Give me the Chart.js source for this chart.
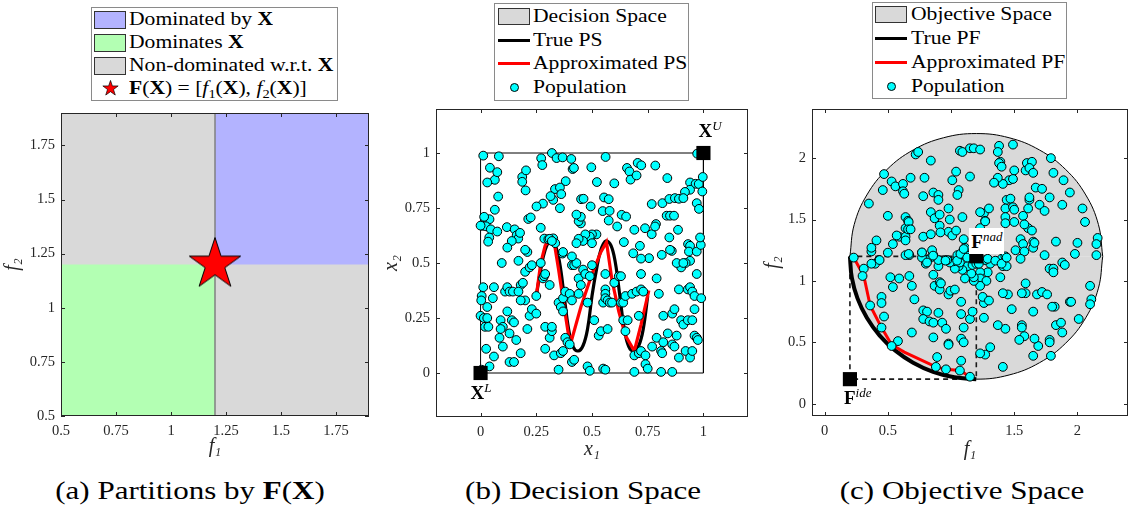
<!DOCTYPE html>
<html><head><meta charset="utf-8">
<script src="https://cdn.jsdelivr.net/npm/chart.js@4.4.1/dist/chart.umd.min.js"></script>
<style>
body{margin:0;width:1131px;height:509px;background:#fff;position:relative;overflow:hidden;font-family:'Liberation Serif','Times New Roman',serif;color:#000;}
canvas{position:absolute;}
.leg{position:absolute;border:1px solid #8a8a8a;background:#fff;font-size:18px;box-sizing:border-box;}
.row{position:absolute;left:0;right:0;height:23px;line-height:23px;white-space:nowrap;}
.sw{position:absolute;box-sizing:border-box;}
.txt{position:absolute;display:inline-block;transform:scaleX(1.2);transform-origin:0 50%;}
.cap{position:absolute;font-size:25px;top:476px;line-height:30px;transform:translateX(-50%) scaleX(1.24);white-space:nowrap;}
.ann{position:absolute;font-size:19px;line-height:19px;white-space:nowrap;}
.ann sup{font-size:13px;font-style:italic;vertical-align:7px;line-height:0;}
sub{font-size:12px;vertical-align:-4px;line-height:0;}
</style></head>
<body>
<canvas id="ca" width="380" height="370" style="left:0;top:100px"></canvas>
<canvas id="cb" width="380" height="370" style="left:380px;top:100px"></canvas>
<canvas id="cc" width="371" height="370" style="left:760px;top:100px"></canvas>

<div class="leg" style="left:91px;top:7px;width:247px;height:94px">
  <div class="row" style="top:0px"><div class="sw" style="left:2px;top:3px;width:32px;height:18px;background:#b3b3ff;border:1px solid #333"></div><div class="txt" style="left:37px">Dominated by <b>X</b></div></div>
  <div class="row" style="top:23px"><div class="sw" style="left:2px;top:3px;width:32px;height:18px;background:#b3ffb3;border:1px solid #333"></div><div class="txt" style="left:37px">Dominates <b>X</b></div></div>
  <div class="row" style="top:46px"><div class="sw" style="left:2px;top:3px;width:32px;height:18px;background:#d9d9d9;border:1px solid #333"></div><div class="txt" style="left:37px">Non-dominated w.r.t. <b>X</b></div></div>
  <div class="row" style="top:69px"><svg class="sw" style="left:10px;top:3px" width="17" height="17" viewBox="-10 -10 20 20"><polygon points="0,-9.5 2.2,-3 9,-3 3.5,1.2 5.6,7.7 0,3.7 -5.6,7.7 -3.5,1.2 -9,-3 -2.2,-3" fill="#ff0000" stroke="#000" stroke-width="0.8"/></svg><div class="txt" style="left:37px"><b>F</b>(<b>X</b>) = [<i>f</i><sub>1</sub>(<b>X</b>), <i>f</i><sub>2</sub>(<b>X</b>)]</div></div>
</div>

<div class="leg" style="left:494px;top:3px;width:195px;height:98px">
  <div class="row" style="top:1px"><div class="sw" style="left:3px;top:3px;width:32px;height:17px;background:#d9d9d9;border:1px solid #333"></div><div class="txt" style="left:38px">Decision Space</div></div>
  <div class="row" style="top:25px"><div class="sw" style="left:3px;top:10px;width:32px;height:3px;background:#000"></div><div class="txt" style="left:38px">True PS</div></div>
  <div class="row" style="top:48px"><div class="sw" style="left:3px;top:10px;width:32px;height:3px;background:#ff0000"></div><div class="txt" style="left:38px">Approximated PS</div></div>
  <div class="row" style="top:72px"><div class="sw" style="left:15px;top:7px;width:9px;height:9px;border-radius:50%;background:#00ffff;border:1px solid #000"></div><div class="txt" style="left:38px">Population</div></div>
</div>

<div class="leg" style="left:872px;top:2px;width:195px;height:97px">
  <div class="row" style="top:0px"><div class="sw" style="left:2px;top:3px;width:32px;height:17px;background:#d9d9d9;border:1px solid #333"></div><div class="txt" style="left:38px">Objective Space</div></div>
  <div class="row" style="top:24px"><div class="sw" style="left:2px;top:10px;width:32px;height:3px;background:#000"></div><div class="txt" style="left:38px">True PF</div></div>
  <div class="row" style="top:48px"><div class="sw" style="left:2px;top:10px;width:32px;height:3px;background:#ff0000"></div><div class="txt" style="left:38px">Approximated PF</div></div>
  <div class="row" style="top:72px"><div class="sw" style="left:14px;top:7px;width:9px;height:9px;border-radius:50%;background:#00ffff;border:1px solid #000"></div><div class="txt" style="left:38px">Population</div></div>
</div>

<div class="cap" style="left:190px">(a) Partitions by <b>F</b>(<b>X</b>)</div>
<div class="cap" style="left:583px">(b) Decision Space</div>
<div class="cap" style="left:962px">(c) Objective Space</div>

<div class="ann" id="aXU"><b>X</b><sup>U</sup></div>
<div class="ann" id="aXL"><b>X</b><sup>L</sup></div>
<div class="ann" id="aFnad" style="background:#fff;padding:4px 2px 3px 2px;"><b>F</b><sup>nad</sup></div>
<div class="ann" id="aFide"><b>F</b><sup>ide</sup></div>

<script>
// ---------------- DATA ----------------
// (a) partitions
const rangeA = [0.5, 1.9];
const ticksA = [0.5, 0.75, 1, 1.25, 1.5, 1.75];
const tickLabelsA = ['0.5', '0.75', '1', '1.25', '1.5', '1.75'];
const pointFX = [1.2, 1.2];

// (b) decision space
const rangeB = [-0.2, 1.2];
const ticksB = [0, 0.25, 0.5, 0.75, 1];
const tickLabelsB = ['0', '0.25', '0.5', '0.75', '1'];
const boundLower = [0, 0];
const boundUpper = [1, 1];
const truePS = [[0.25,0.35],[0.27,0.47],[0.29,0.56],[0.3125,0.6],[0.335,0.58],[0.355,0.5],[0.375,0.35],[0.395,0.2],[0.415,0.12],[0.4375,0.1],[0.46,0.125],[0.48,0.2],[0.5,0.35],[0.52,0.47],[0.54,0.56],[0.5625,0.6],[0.585,0.58],[0.605,0.5],[0.625,0.35],[0.645,0.2],[0.665,0.12],[0.6875,0.1],[0.71,0.125],[0.73,0.2],[0.75,0.35]];
const approxPS = [[0.25,0.35],[0.27,0.5],[0.29,0.58],[0.31,0.605],[0.33,0.595],[0.35,0.47],[0.375,0.3],[0.395,0.17],[0.41,0.155],[0.45,0.3],[0.5,0.45],[0.54,0.55],[0.565,0.595],[0.59,0.42],[0.62,0.28],[0.65,0.17],[0.69,0.1],[0.72,0.22],[0.755,0.375]];
const popDecision = [
[0.012,0.988],[0.082,0.985],[0.272,0.976],[0.277,0.945],[0.32,1.0],[0.341,0.977],[0.368,0.98],[0.407,0.973],[0.413,0.927],[0.419,0.932],[0.497,0.935],[0.561,0.982],[0.657,0.932],[0.668,0.916],[0.673,0.879],[0.7,0.898],[0.705,0.955],[0.721,0.944],[0.784,0.943],[0.972,0.997],
[0.042,0.933],[0.064,0.878],[0.075,0.913],[0.03,0.866],[0.187,0.891],[0.187,0.869],[0.204,0.921],[0.202,0.83],[0.382,0.872],[0.522,0.868],[0.6,0.862],[0.838,0.886],[0.94,0.866],[0.965,0.86],[0.979,0.859],[0.997,0.891],[0.995,0.825],[0.94,0.833],[0.917,0.823],[0.97,0.772],[0.98,0.746],
[0.334,0.836],[0.356,0.843],[0.362,0.813],[0.326,0.787],[0.314,0.804],[0.28,0.77],[0.356,0.749],[0.451,0.79],[0.462,0.792],[0.494,0.757],[0.554,0.798],[0.575,0.79],[0.548,0.736],[0.579,0.737],[0.575,0.693],[0.633,0.719],[0.653,0.711],[0.768,0.768],[0.816,0.772],[0.847,0.791],[0.872,0.795],[0.89,0.792],[0.91,0.795],[0.835,0.715],[0.85,0.715],[0.868,0.715],[0.886,0.651],[0.787,0.677],[0.768,0.631],[0.738,0.658],[0.783,0.666],[0.69,0.651],[0.613,0.666],[0.643,0.595],[0.685,0.544],[0.715,0.578],[0.756,0.522],[0.813,0.537],[0.858,0.555],[0.847,0.616],[0.931,0.586],[0.94,0.578],[0.935,0.552],[0.97,0.552],[0.988,0.582],[0.985,0.616],
[0.079,0.802],[0.064,0.742],[0.04,0.699],[0.016,0.71],[0.009,0.669],[0.024,0.667],[0.046,0.653],[0.075,0.643],[0.039,0.616],[0.034,0.597],[0.118,0.663],[0.153,0.653],[0.162,0.626],[0.169,0.611],[0.177,0.637],[0.214,0.7],[0.225,0.707],[0.251,0.757],[0.286,0.611],[0.304,0.608],[0.326,0.612],[0.335,0.59],[0.368,0.543],
[0.14,0.6],[0.12,0.57],[0.17,0.51],[0.18,0.4],[0.19,0.41],[0.2,0.46],[0.2,0.33],[0.18,0.33],[0.21,0.55],[0.2,0.56],[0.22,0.48],[0.23,0.49],[0.095,0.5],[0.11,0.37],[0.12,0.39],[0.13,0.37],[0.145,0.37],[0.17,0.37],[0.06,0.39],[0.055,0.34],[0.005,0.35],[0.003,0.33],[0.012,0.39],[0.0,0.26],[0.015,0.25],[0.02,0.21],[0.03,0.25],[0.035,0.21],[0.03,0.3],[0.09,0.24],[0.1,0.21],[0.09,0.2],[0.085,0.16],[0.12,0.28],[0.13,0.18],[0.14,0.24],[0.15,0.23],[0.16,0.15],[0.1,0.12],[0.025,0.11],[0.06,0.075],[0.04,0.03],[0.13,0.05],[0.15,0.05],[0.18,0.09],[0.21,0.2],[0.22,0.26],[0.23,0.29],[0.25,0.27],[0.28,0.43],[0.285,0.44],[0.29,0.45],[0.29,0.21],[0.29,0.11],[0.31,0.16],[0.31,0.4],[0.32,0.19],[0.32,0.21],[0.33,0.08],[0.35,0.32],[0.36,0.3],[0.37,0.28],[0.37,0.34],[0.38,0.37],[0.38,0.16],[0.36,0.09],[0.37,0.1],[0.35,0.015],[0.39,0.14],[0.4,0.13],[0.41,0.05],[0.42,0.06],[0.44,0.36],[0.44,0.43],[0.45,0.4],[0.46,0.47],[0.47,0.45],[0.48,0.32],[0.49,0.44],[0.5,0.49],[0.51,0.24],[0.48,0.03],[0.49,0.01],[0.53,0.17],[0.54,0.19],[0.55,0.02],[0.56,0.015],[0.57,0.2],[0.55,0.32],[0.56,0.38],[0.56,0.36],[0.56,0.34],[0.57,0.33],[0.58,0.32],[0.59,0.32],[0.56,0.45],[0.6,0.41],[0.62,0.44],[0.63,0.44],[0.63,0.32],[0.64,0.32],[0.65,0.35],[0.64,0.24],[0.66,0.24],[0.65,0.19],[0.69,0.08],[0.71,0.09],[0.72,0.1],[0.74,0.08],[0.74,0.04],[0.75,0.02],[0.69,0.005],[0.68,0.36],[0.7,0.37],[0.71,0.26],[0.72,0.38],[0.73,0.37],[0.72,0.45],[0.72,0.52],[0.77,0.12],[0.79,0.16],[0.81,0.1],[0.815,0.09],[0.82,0.14],[0.8,0.36],[0.79,0.43],[0.82,0.26],[0.84,0.18],[0.86,0.13],[0.86,0.27],[0.87,0.29],[0.88,0.17],[0.89,0.07],[0.9,0.24],[0.91,0.22],[0.92,0.1],[0.94,0.07],[0.95,0.1],[0.93,0.24],[0.95,0.24],[0.96,0.29],[0.96,0.17],[0.97,0.16],[0.975,0.15],[0.81,0.005],[0.86,0.005],[0.87,0.12],[0.89,0.38],[0.93,0.38],[0.94,0.39],[0.95,0.37],[0.96,0.35],[0.99,0.34],[0.97,0.45],[0.94,0.51],[0.92,0.5],[0.9,0.48],[0.88,0.5],[0.91,0.5],[0.85,0.56],
[0.52,0.63],[0.5,0.63],[0.49,0.62],[0.5,0.59],[0.47,0.63],[0.46,0.6],[0.44,0.61],[0.45,0.68],[0.44,0.69],[0.45,0.71],[0.43,0.59],[0.41,0.49],[0.42,0.49],[0.43,0.5],[0.41,0.53],[0.37,0.55],[0.43,0.72],[0.27,0.66],[0.0,0.67],[0.31,0.61],[0.32,0.6],[0.25,0.35],[0.27,0.5],[0.4,0.36],[0.41,0.33],[0.005,0.015]];

// (c) objective space
const rangeC = [-0.1, 2.4];
const ticksC = [0, 0.5, 1, 1.5, 2];
const tickLabelsC = ['0', '0.5', '1', '1.5', '2'];
const pointNadir = [1.2, 1.2];
const pointIdeal = [0.2, 0.2];
const spaceUpperArc = [[0.2,1.2],[0.234,1.459],[0.334,1.7],[0.493,1.907],[0.7,2.066],[0.941,2.166],[1.2,2.2],[1.459,2.166],[1.7,2.066],[1.907,1.907],[2.066,1.7],[2.166,1.459],[2.2,1.2]];
const spaceLowerArc = [[0.2,1.2],[0.234,0.941],[0.334,0.7],[0.493,0.493],[0.7,0.334],[0.941,0.234],[1.2,0.2],[1.459,0.234],[1.7,0.334],[1.907,0.493],[2.066,0.7],[2.166,0.941],[2.2,1.2]];
const truePF = [[0.2,1.2],[0.215,1.026],[0.26,0.858],[0.334,0.7],[0.434,0.557],[0.557,0.434],[0.7,0.334],[0.858,0.26],[1.026,0.215],[1.2,0.2]];
const approxPF = [[0.23,1.19],[0.31,1.04],[0.36,0.8],[0.45,0.62],[0.53,0.48],[0.63,0.42],[0.88,0.3],[0.96,0.28],[1.07,0.27],[1.15,0.22]];
const popObjective = [
[0.47,1.87],[0.46,1.74],[0.35,1.63],[0.53,1.81],[0.56,1.77],[0.62,1.79],[0.62,1.73],[0.63,1.71],[0.68,1.84],[0.72,2.03],[0.74,2.05],[0.79,1.84],[0.84,1.98],[0.78,1.69],[0.86,1.72],[0.9,1.7],[0.9,1.66],[0.84,1.56],[0.98,1.59],[1.01,1.82],[1.04,1.89],[1.06,1.74],[1.05,1.7],[1.07,2.06],[1.09,2.05],[1.15,2.08],[1.18,2.08],[1.23,2.07],[1.15,1.85],[1.09,1.52],[0.99,1.5],[0.87,1.51],[0.91,1.45],[0.98,1.4],[1.01,1.37],[1.04,1.41],[1.1,1.34],[1.26,1.55],[1.23,1.56],[1.3,1.59],[1.27,1.49],[1.23,1.43],
[1.38,2.1],[1.37,2.05],[1.39,1.97],[1.38,1.96],[1.4,1.93],[1.49,2.11],[1.5,1.9],[1.46,1.82],[1.41,1.79],[1.37,1.84],[1.34,1.8],[1.49,1.83],[1.44,1.66],[1.47,1.67],[1.43,1.59],[1.49,1.6],[1.5,1.58],[1.43,1.52],[1.43,1.47],[1.5,1.48],[1.57,1.53],[1.62,1.66],[1.62,1.68],[1.61,1.59],[1.59,1.9],[1.6,1.96],[1.64,1.97],[1.62,1.92],[1.65,1.88],[1.67,1.76],[1.72,1.75],[1.7,1.62],[1.74,1.57],[1.78,1.68],[1.79,2.0],[1.81,1.88],[1.89,1.82],[1.94,1.72],[1.88,1.62],[2.04,1.59],[2.06,1.48],[2.16,1.35],[2.15,1.3],[2.0,1.31],[1.98,1.22],[1.83,1.32],[1.74,1.21],[1.78,1.1],[1.81,1.1],[1.81,1.07],[1.88,1.15],[1.9,1.13],[2.15,1.21],[2.1,0.96],[2.11,0.85],[2.1,0.81],[1.94,0.83],[2.01,0.69],[1.82,0.79],[1.83,0.64],[1.87,0.66],[1.88,0.58],[1.78,0.52],[1.78,0.5],[1.79,0.39],[1.69,0.47],[1.66,0.53],[1.65,0.39],[1.65,0.75],[1.68,0.89],[1.72,0.91],[1.76,0.89],[1.59,0.98],[1.59,0.9],[1.56,0.9],[1.56,0.64],[1.56,0.62],[1.58,0.55],[1.54,0.52],[1.48,0.77],[1.45,0.89],[1.41,0.9],[1.43,0.61],[1.37,0.64],[1.41,0.3],[1.31,0.46],[1.27,0.4],[1.23,0.41],[1.26,0.7],[1.28,0.84],[1.26,0.82],[1.39,1.03],[1.41,1.12],[1.44,1.12],[1.4,1.18],[1.43,1.2],[1.51,1.25],[1.55,1.34],[1.57,1.3],[1.58,1.24],[1.61,1.43],[1.58,1.46],[1.64,1.41],[1.65,1.32],[1.65,1.27],
[1.31,1.14],[1.27,1.17],[1.29,1.07],[1.23,1.07],[1.23,1.02],[1.28,1.0],[1.23,0.96],[1.18,1.0],[1.18,1.03],[1.16,1.06],[1.13,1.12],[1.17,1.13],[1.2,1.14],[1.11,1.02],[1.09,1.09],[1.06,1.12],[1.03,1.1],[1.02,1.16],[1.05,1.21],[1.08,1.22],[1.12,1.21],[1.11,1.27],[1.07,1.15],[0.99,1.15],[0.95,1.17],[0.9,1.12],[0.86,1.21],[0.85,1.25],[0.84,1.19],[0.81,1.17],[0.8,1.14],[0.77,1.23],[0.77,1.19],[0.78,1.36],[0.84,1.38],[0.67,1.21],[0.64,1.21],[0.59,1.36],[0.54,1.3],[0.5,1.23],[0.43,1.17],[0.4,1.14],[0.37,1.14],[0.37,1.24],[0.37,1.27],[0.41,1.33],[0.5,1.53],[0.64,1.52],[0.66,1.49],[0.64,1.43],[0.67,1.43],[0.64,1.36],[0.64,1.33],
[0.23,1.19],[0.31,1.1],[0.3,1.04],[0.52,1.03],[0.54,0.95],[0.59,1.02],[0.67,1.04],[0.69,0.96],[0.71,0.85],[0.45,0.87],[0.45,0.82],[0.47,0.71],[0.36,0.8],[0.45,0.62],[0.58,0.51],[0.53,0.47],[0.69,0.58],[0.78,0.76],[0.81,0.75],[0.78,0.69],[0.83,0.67],[0.86,0.66],[0.9,0.74],[0.93,0.66],[0.96,0.61],[0.86,0.54],[0.89,0.38],[0.98,0.49],[0.98,0.48],[1.08,0.83],[1.08,0.73],[1.1,0.62],[1.15,0.69],[1.17,0.75],[1.08,0.53],[1.1,0.5],[1.08,0.35],[0.87,0.96],[0.91,0.99],[0.91,0.93],[0.98,0.89],[0.995,0.92],[1.03,0.93],[0.9,1.17],[0.97,1.17],[0.86,1.05],[0.92,0.98],
[0.88,0.3],[0.96,0.28],[1.07,0.27],[1.15,0.22],
[0.956,1.165],[1.048,1.165],[1.074,1.22],[1.1,1.26],[1.128,1.19],[1.22,1.14],[1.29,1.18],[1.35,1.165],[1.4,1.14],[1.44,1.19],[1.55,1.18],[1.66,1.31],[0.77,1.232],[0.81,1.15],[0.858,1.206],[0.916,1.395],[1.27,1.485],[0.665,1.48],[0.66,1.42],[0.68,1.42],[0.57,1.37],[0.435,1.17],[0.665,1.22],[0.91,1.54],[1.25,0.87],[1.3,0.84],[1.95,0.83],[1.8,0.79]];

// ---------------- RENDERING ----------------
const FONT = "'Liberation Serif','Times New Roman',serif";
const AXC = '#262626';
const toXY = arr => arr.map(p => ({x: p[0], y: p[1]}));

function makeAxis(range, ticks, labels, title, size, titlePad) {
  return {
    type: 'linear', min: range[0], max: range[1],
    afterBuildTicks: s => { s.ticks = ticks.map(v => ({value: v})); },
    afterFit: s => {
      if (s.isHorizontal()) s.height = size; else s.width = size;
      s.paddingTop = 0; s.paddingBottom = 0; s.paddingLeft = 0; s.paddingRight = 0;
    },
    ticks: { callback: v => labels[ticks.indexOf(v)], font: {family: FONT, size: 14.5}, color: AXC, padding: 6, maxRotation: 0, autoSkip: false },
    grid: { display: false, drawTicks: false },
    border: { display: false },
    title: { display: true, text: title, font: {family: FONT, size: 20, style: 'italic'}, color: AXC, padding: titlePad }
  };
}

const boxPlugin = {
  id: 'axesBox',
  afterDraw(chart) {
    const {ctx, chartArea: a, scales: {x, y}} = chart;
    ctx.save();
    ctx.strokeStyle = AXC; ctx.lineWidth = 1;
    ctx.strokeRect(Math.round(a.left) + 0.5, Math.round(a.top) + 0.5, Math.round(a.right - a.left) - 1, Math.round(a.bottom - a.top) - 1);
    ctx.beginPath();
    const L = 4;
    x.ticks.forEach(t => { const p = Math.round(x.getPixelForValue(t.value)) + 0.5;
      ctx.moveTo(p, a.bottom); ctx.lineTo(p, a.bottom - L); ctx.moveTo(p, a.top); ctx.lineTo(p, a.top + L); });
    y.ticks.forEach(t => { const p = Math.round(y.getPixelForValue(t.value)) + 0.5;
      ctx.moveTo(a.left, p); ctx.lineTo(a.left + L, p); ctx.moveTo(a.right, p); ctx.lineTo(a.right - L, p); });
    ctx.stroke();
    ctx.restore();
  }
};

function starImage(R) {
  const c = document.createElement('canvas');
  const s = Math.ceil(2 * R + 4); c.width = s; c.height = s;
  const g = c.getContext('2d'); const cx = s / 2, cy = s / 2, r = R * 0.382;
  g.beginPath();
  for (let i = 0; i < 10; i++) { const ang = -Math.PI / 2 + i * Math.PI / 5; const rad = i % 2 ? r : R;
    g.lineTo(cx + rad * Math.cos(ang), cy + rad * Math.sin(ang)); }
  g.closePath(); g.fillStyle = '#ff0000'; g.fill(); g.lineWidth = 1; g.strokeStyle = '#000'; g.stroke();
  return c;
}

function baseOptions(xAxis, yAxis, padding) {
  return {
    responsive: false, animation: false, devicePixelRatio: 1, events: [],
    layout: {padding, autoPadding: false},
    plugins: {legend: {display: false}, tooltip: {enabled: false}},
    scales: {x: xAxis, y: yAxis}
  };
}

const pop = (data) => ({data: toXY(data), pointRadius: 4.4, pointBorderWidth: 1, pointBackgroundColor: '#00ffff', pointBorderColor: '#000', showLine: false});
const line = (data, color, width, extra) => Object.assign({data: toXY(data), showLine: true, borderColor: color, borderWidth: width, pointRadius: 0, fill: false}, extra || {});

// ---- Chart (a)
const chartA = new Chart(document.getElementById('ca'), {
  type: 'scatter',
  data: {datasets: [
    {data: toXY([pointFX]), pointStyle: starImage(27), pointRadius: 27},
    line([[pointFX[0], rangeA[0]], [pointFX[0], rangeA[1]]], '#808080', 1.5),
    line([[pointFX[0], rangeA[1]], [rangeA[1], rangeA[1]]], 'rgba(0,0,0,0)', 0, {fill: {value: pointFX[1]}, backgroundColor: '#b3b3ff'}),
    line([[rangeA[0], pointFX[1]], [pointFX[0], pointFX[1]]], 'rgba(0,0,0,0)', 0, {fill: {value: rangeA[0]}, backgroundColor: '#b3ffb3'}),
    line([[rangeA[0], rangeA[1]], [rangeA[1], rangeA[1]]], 'rgba(0,0,0,0)', 0, {fill: {value: rangeA[0]}, backgroundColor: '#d9d9d9'})
  ]},
  options: baseOptions(makeAxis(rangeA, ticksA, tickLabelsA, 'f₁', 54, {top: 0, bottom: 11}),
                       makeAxis(rangeA, ticksA, tickLabelsA, 'f₂', 61, {top: 1, bottom: 0}),
                       {left: 0, top: 13, right: 11, bottom: 0}),
  plugins: [boxPlugin]
});

// ---- Chart (b)
const chartB = new Chart(document.getElementById('cb'), {
  type: 'scatter',
  data: {datasets: [
    {data: toXY([boundLower, boundUpper]), pointStyle: 'rect', pointRadius: 10, pointBackgroundColor: '#000', pointBorderColor: '#000', pointBorderWidth: 0},
    pop(popDecision),
    line(approxPS, '#ff0000', 3.2),
    line(truePS, '#000', 3.2, {tension: 0.4}),
    line([[boundLower[0], boundLower[1]], [boundLower[0], boundUpper[1]], [boundUpper[0], boundUpper[1]], [boundUpper[0], boundLower[1]], [boundLower[0], boundLower[1]]], '#000', 1, {fill: {value: boundLower[1]}, backgroundColor: '#d9d9d9'})
  ]},
  options: baseOptions(makeAxis(rangeB, ticksB, tickLabelsB, 'x₁', 53, {top: 0, bottom: 8}),
                       makeAxis(rangeB, ticksB, tickLabelsB, 'x₂', 56, {top: 0, bottom: 0}),
                       {left: 0, top: 9, right: 12, bottom: 0}),
  plugins: [boxPlugin]
});

// ---- Chart (c)
const chartC = new Chart(document.getElementById('cc'), {
  type: 'scatter',
  data: {datasets: [
    {data: toXY([pointNadir, pointIdeal]), pointStyle: 'rect', pointRadius: 10, pointBackgroundColor: '#000', pointBorderColor: '#000', pointBorderWidth: 0},
    pop(popObjective),
    line(approxPF, '#ff0000', 3),
    line(truePF, '#000', 4, {tension: 0.4}),
    line([[pointIdeal[0], pointNadir[1]], [pointIdeal[0], pointIdeal[1]], [pointNadir[0], pointIdeal[1]], [pointNadir[0], pointNadir[1]], [pointIdeal[0], pointNadir[1]]], '#1a1a1a', 1.6, {borderDash: [5, 4]}),
    line(spaceUpperArc, '#000', 1, {tension: 0.4, fill: {value: pointNadir[1]}, backgroundColor: '#d9d9d9'}),
    line(spaceLowerArc, '#000', 1, {tension: 0.4, fill: {value: pointNadir[1]}, backgroundColor: '#d9d9d9'})
  ]},
  options: baseOptions(makeAxis(rangeC, ticksC, tickLabelsC, 'f₁', 54, {top: 0, bottom: 8}),
                       makeAxis(rangeC, ticksC, tickLabelsC, 'f₂', 52, {top: 1, bottom: 0}),
                       {left: 0, top: 9, right: 3, bottom: 0}),
  plugins: [boxPlugin]
});

// ---- annotations placed through the chart scales
function place(id, chart, offX, offY, pt, dx, dy) {
  const el = document.getElementById(id);
  el.style.left = (offX + chart.scales.x.getPixelForValue(pt[0]) + dx) + 'px';
  el.style.top = (offY + chart.scales.y.getPixelForValue(pt[1]) + dy) + 'px';
}
place('aXU', chartB, 380, 100, boundUpper, -5, -32);
place('aXL', chartB, 380, 100, boundLower, -10, 10);
place('aFnad', chartC, 760, 100, pointNadir, -7, -28);
place('aFide', chartC, 760, 100, pointIdeal, -6, 9);
</script>
</body></html>
